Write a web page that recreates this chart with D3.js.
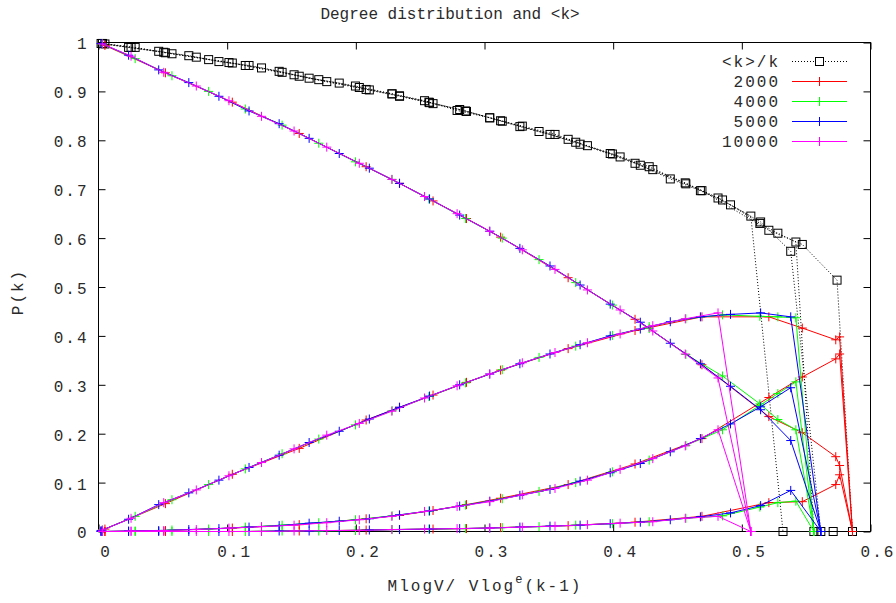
<!DOCTYPE html>
<html lang="en">
<head>
    <meta charset="UTF-8">
    <title>Degree distribution and &lt;k&gt;</title>
    <style>
        * {
            margin:0;
            padding:0;
            box-sizing: border-box;
        }
        body {
            background:#fff;
        }
        #chart {
            width:896px;
            height:603px;
        }
        text {
            font-family: "Liberation Mono", "DejaVu Sans Mono", monospace;
            font-size: 16px;
            letter-spacing: 2px;
            fill: #2a2a2a;
        }
        text.title {
            letter-spacing: 0;
        }
    </style>
    <script src="https://cdn.jsdelivr.net/npm/d3@7/dist/d3.min.js"></script>
    <script>
        // ticks and legend
        const xTicks=[0,0.1,0.2,0.3,0.4,0.5,0.6];
        const yTicks=[0,0.1,0.2,0.3,0.4,0.5,0.6,0.7,0.8,0.9,1];
        const names=["2000","4000","5000","10000"];

        // V=2000
        const x_2000=[0.005,0.052,0.104,0.156,0.208,0.234,0.260,0.286,0.3125,0.365,0.417,0.469,0.521,0.547,0.573,0.576,0.586];
        const p1_2000=[.994,.938,.878,.814,.746,.712,.676,.640,.602,.519,.434,.341,.235,.202,.153,.135,0];
        const p2_2000=[.005,.057,.117,.170,.228,.254,.279,.305,.330,.374,.411,.439,.439,.416,.392,.398,0];
        const p3_2000=[0,.002,.007,.014,.026,.033,.043,.055,.068,.096,.138,.190,.274,.316,.353,.363,0];
        const p4_2000=[0,0,0,.001,.003,.004,.005,.006,.008,.012,.019,.031,.059,.061,.096,.116,0];
        const kx_2000=[0.005,0.052,0.104,0.156,0.208,0.234,0.260,0.286,0.3125,0.365,0.417,0.469,0.521,0.547,0.574,0.586];
        const kk_2000=[.997,.979,.958,.931,.904,.890,.875,.859,.840,.802,.753,.697,.616,.587,.514,0];

        // V=4000
        const x_4000=[0.003,0.0285,0.0571,0.0856,0.1141,0.1427,0.1712,0.1997,0.2282,0.2568,0.2853,0.3138,0.3424,0.3709,0.3994,0.4280,0.4565,0.485,0.514,0.528,0.542,0.556];
        const p1_4000=[.997,.967,.932,.900,.864,.831,.794,.756,.720,.680,.640,.600,.556,.509,.463,.415,.362,.318,.261,.229,.208,0];
        const p2_4000=[.003,.031,.065,.096,.128,.159,.189,.218,.247,.276,.304,.331,.356,.379,.401,.419,.435,.443,.440,.439,.437,0];
        const p3_4000=[0,.001,.003,.005,.009,.013,.018,.024,.032,.042,.054,.067,.082,.100,.122,.146,.176,.208,.258,.282,.306,0];
        const p4_4000=[0,0,0,0,0,.001,.001,.002,.004,.005,.006,.008,.010,.013,.016,.020,.027,.032,.050,.059,.062,0];
        const kx_4000=[0.003,0.0285,0.0571,0.0856,0.1141,0.1427,0.1712,0.1997,0.2282,0.2568,0.2853,0.3138,0.3424,0.3709,0.3994,0.4280,0.4565,0.485,0.514,0.528,0.542,0.556,0.571];
        const kk_4000=[.998,.990,.977,.965,.953,.939,.924,.911,.895,.878,.860,.839,.818,.796,.772,.746,.711,.678,.630,.610,.592,0,0];

        // V=5000
        const x_5000=[0.002,0.0234,0.0468,0.0702,0.0936,0.117,0.1404,0.1637,0.1871,0.2105,0.2339,0.2573,0.2807,0.3041,0.3275,0.3509,0.3743,0.3977,0.4211,0.4444,0.4678,0.4912,0.5146,0.538,0.5614];
        const p1_5000=[.998,.974,.944,.918,.890,.860,.834,.804,.773,.743,.712,.680,.647,.614,.579,.543,.504,.465,.428,.385,.343,.297,.249,.186,0];
        const p2_5000=[.002,.025,.055,.079,.105,.131,.156,.182,.205,.230,.254,.277,.300,.322,.343,.363,.382,.400,.414,.429,.439,.444,.447,.439,0];
        const p3_5000=[0,.001,.002,.004,.006,.009,.012,.017,.021,.026,.034,.042,.052,.062,.074,.086,.103,.120,.139,.163,.190,.220,.255,.294,0];
        const p4_5000=[0,0,0,0,0,0,.001,.001,.002,.003,.004,.005,.006,.007,.009,.011,.013,.016,.019,.024,.030,.038,.053,.084,0];
        const kx_5000=[0.002,0.0234,0.0468,0.0702,0.0936,0.117,0.1404,0.1637,0.1871,0.2105,0.2339,0.2573,0.2807,0.3041,0.3275,0.3509,0.3743,0.3977,0.4211,0.4444,0.4678,0.4912,0.5146,0.538,0.5614];
        const kk_5000=[.998,.990,.982,.973,.961,.953,.941,.927,.917,.903,.891,.877,.863,.846,.828,.812,.792,.773,.749,.721,.697,.668,.633,.573,0];

        // V=10000
        const x_10000=[0.003,0.0253,0.0507,0.076,0.1014,0.1267,0.152,0.1774,0.2027,0.228,0.2534,0.2787,0.304,0.3294,0.3548,0.38,0.4054,0.4308,0.456,0.4815,0.507];
        const p1_10000=[.997,.972,.939,.911,.881,.849,.819,.786,.753,.720,.685,.650,.614,.576,.536,.494,.453,.410,.363,.314,0];
        const p2_10000=[.003,.027,.059,.085,.114,.141,.169,.197,.221,.246,.273,.298,.322,.345,.366,.386,.404,.421,.435,.447,0];
        const p3_10000=[0,.001,.002,.004,.007,.010,.013,.018,.024,.031,.041,.051,.061,.075,.088,.105,.127,.149,.175,.208,0];
        const p4_10000=[0,0,0,0,0,0,.001,.002,.002,.004,.005,.006,.007,.009,.011,.014,.017,.020,.027,.031,0];
        const kx_10000=[0.003,0.0253,0.0507,0.076,0.1014,0.1267,0.152,0.1774,0.2027,0.228,0.2534,0.2787,0.304,0.3294,0.3548,0.38,0.4054,0.4308,0.456,0.4815,0.507,0.532];
        const kk_10000=[.998,.990,.980,.970,.959,.948,.934,.920,.908,.895,.881,.861,.846,.829,.812,.789,.766,.740,.713,.682,.645,0];
    </script>
</head>
<body>
    <div id="chart"></div>
    <script>
        const width=896;
        const height=603;
        const marginTop=42.5;
        const marginRight=25.5;
        const marginBottom=71.5;
        const marginLeft=98.5;
        const tick=7;

        const lineColors=["#ff0000","#00ff00","#0000ff","#ff00ff"];
        const series=[
            {x:x_2000, ys:[p1_2000,p2_2000,p3_2000,p4_2000], kx:kx_2000, kk:kk_2000},
            {x:x_4000, ys:[p1_4000,p2_4000,p3_4000,p4_4000], kx:kx_4000, kk:kk_4000},
            {x:x_5000, ys:[p1_5000,p2_5000,p3_5000,p4_5000], kx:kx_5000, kk:kk_5000},
            {x:x_10000, ys:[p1_10000,p2_10000,p3_10000,p4_10000], kx:kx_10000, kk:kk_10000}
        ];

        const xScale=d3.scaleLinear([0,0.6],[marginLeft,width-marginRight]);
        const yScale=d3.scaleLinear([0,1],[height-marginBottom,marginTop]);
        const fmt=d=>String(+d.toFixed(1));

        const svg=d3.select("#chart").append("svg")
            .attr("width",width)
            .attr("height",height);

        // axes, ticks pointing inward and mirrored on top/right
        svg.append("g")
            .attr("transform",`translate(0,${height-marginBottom})`)
            .call(d3.axisBottom(xScale).tickValues(xTicks).tickFormat(fmt).tickSize(-tick).tickPadding(14))
            .call(g=>g.select(".domain").remove())
            .call(g=>g.selectAll(".tick line").attr("stroke","#000"))
            .call(g=>g.selectAll(".tick text").attr("dx",7).attr("font-size",null).attr("font-family",null).attr("fill",null));
        svg.append("g")
            .attr("transform",`translate(0,${marginTop})`)
            .call(d3.axisTop(xScale).tickValues(xTicks).tickFormat("").tickSize(-tick))
            .call(g=>g.select(".domain").remove())
            .call(g=>g.selectAll(".tick line").attr("stroke","#000"));
        svg.append("g")
            .attr("transform",`translate(${marginLeft},0)`)
            .call(d3.axisLeft(yScale).tickValues(yTicks).tickFormat(fmt).tickSize(-tick).tickPadding(10))
            .call(g=>g.select(".domain").remove())
            .call(g=>g.selectAll(".tick line").attr("stroke","#000"))
            .call(g=>g.selectAll(".tick text").attr("dy","0.4em").attr("font-size",null).attr("font-family",null).attr("fill",null));
        svg.append("g")
            .attr("transform",`translate(${width-marginRight},0)`)
            .call(d3.axisRight(yScale).tickValues(yTicks).tickFormat("").tickSize(-tick))
            .call(g=>g.select(".domain").remove())
            .call(g=>g.selectAll(".tick line").attr("stroke","#000"));

        svg.append("rect")
            .attr("x",marginLeft)
            .attr("y",marginTop)
            .attr("width",width-marginLeft-marginRight)
            .attr("height",height-marginTop-marginBottom)
            .attr("fill","none")
            .attr("stroke","#000");

        const line=d3.line().x(d=>xScale(d[0])).y(d=>yScale(d[1]));
        const plus="M-4.5,0H4.5M0,-4.5V4.5";

        // <k>/k : dotted black with open squares
        const gk=svg.append("g");
        series.forEach(s=>{
            const pts=s.kx.map((x,i)=>[x,s.kk[i]]);
            gk.append("path")
                .attr("d",line(pts))
                .attr("fill","none")
                .attr("stroke","#000")
                .attr("stroke-dasharray","1,2");
            gk.selectAll(null)
                .data(pts)
                .join("rect")
                  .attr("x",d=>xScale(d[0])-4)
                  .attr("y",d=>yScale(d[1])-4)
                  .attr("width",8)
                  .attr("height",8)
                  .attr("fill","none")
                  .attr("stroke","#000");
        });

        // P(k) curves, one colour per size
        series.forEach((s,si)=>{
            const g=svg.append("g").style("stroke",lineColors[si]).style("fill","none");
            s.ys.forEach(ys=>{
                const pts=s.x.map((x,i)=>[x,ys[i]]);
                g.append("path").attr("d",line(pts));
                g.selectAll(null)
                    .data(pts)
                    .join("path")
                      .attr("d",plus)
                      .attr("transform",d=>`translate(${xScale(d[0])},${yScale(d[1])})`);
            });
        });

        // legend
        const legendLabels=["<k>/k"].concat(names);
        const legendColors=["#000"].concat(lineColors);
        const rows=svg.append("g")
            .selectAll("g")
            .data(legendLabels)
            .join("g")
              .attr("transform",(d,i)=>`translate(0,${61.5+i*20})`);
        rows.append("text")
            .attr("x",780)
            .attr("dy","0.35em")
            .attr("text-anchor","end")
            .text(d=>d);
        rows.append("line")
            .attr("x1",792)
            .attr("x2",847)
            .style("stroke",(d,i)=>legendColors[i])
            .style("stroke-dasharray",(d,i)=>i===0?"1,2":"none");
        rows.filter((d,i)=>i===0).append("rect")
            .attr("x",815.5).attr("y",-4)
            .attr("width",8).attr("height",8)
            .style("fill","#fff").style("stroke","#000");
        rows.filter((d,i)=>i>0).append("path")
            .attr("d",plus)
            .attr("transform","translate(819.5,0)")
            .style("stroke",d=>legendColors[legendLabels.indexOf(d)]);

        // titles
        svg.append("text")
            .attr("class","title")
            .attr("x",width/2+2)
            .attr("y",19)
            .attr("text-anchor","middle")
            .text("Degree distribution and <k>");
        svg.append("text")
            .attr("transform","translate(23,292) rotate(-90)")
            .attr("text-anchor","middle")
            .text("P(k)");
        const xl=svg.append("text")
            .attr("x",485)
            .attr("y",591)
            .attr("text-anchor","middle");
        xl.append("tspan").text("MlogV/ Vlog");
        xl.append("tspan").attr("dy",-8).style("font-size","12px").text("e");
        xl.append("tspan").attr("dy",8).text("(k-1)");
    </script>
</body>
</html>
